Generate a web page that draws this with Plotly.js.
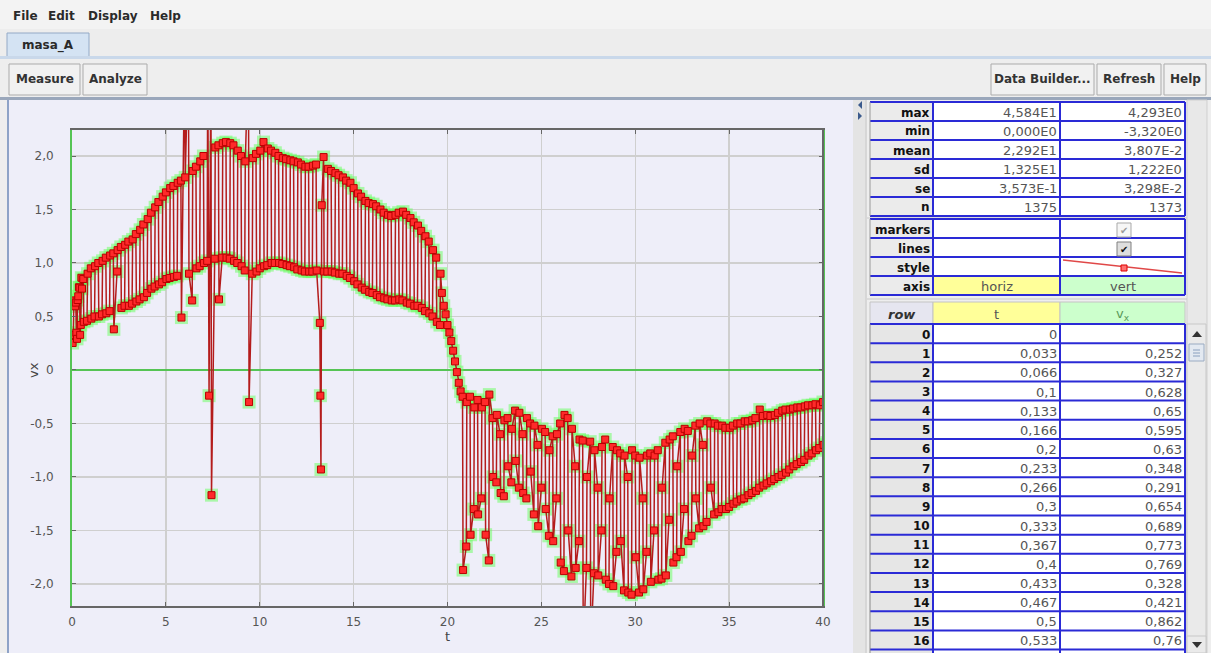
<!DOCTYPE html>
<html><head><meta charset="utf-8">
<script src="https://cdn.plot.ly/plotly-3.0.1.min.js"></script>
<style>html,body{margin:0;padding:0;overflow:hidden;background:#eeeeee}#chart{width:1211px;height:653px}</style>
</head><body><div id="chart"></div>
<script>
// ---------- text content ----------
const menuItems = ["File", "Edit", "Display", "Help"];
const tabName = "masa_A";
const leftButtons = ["Measure", "Analyze"];
const rightButtons = ["Data Builder...", "Refresh", "Help"];

// ---------- series (t, vx) ----------
const t = [0.033,0.066,0.1,0.133,0.166,0.2,0.233,0.266,0.3,0.333,0.367,0.4,0.433,0.467,0.5,0.533,
0.6,0.63,0.8,0.83,1.0,1.03,1.2,1.23,1.4,1.43,
1.6,1.63,1.8,1.83,2.0,2.03,2.2,2.23,2.4,2.43,
2.6,2.63,2.8,2.83,3.0,3.03,3.2,3.23,3.4,3.43,
3.6,3.63,3.8,3.83,4.0,4.03,4.2,4.23,4.4,4.43,
4.6,4.63,4.8,4.83,5.0,5.03,5.2,5.23,5.4,5.43,
5.6,5.63,5.8,5.83,6.0,6.03,6.2,6.23,6.4,6.43,
6.6,6.63,6.8,6.83,7.0,7.03,7.2,7.23,7.3,7.4,
7.43,7.6,7.63,7.8,7.83,8.0,8.03,8.2,8.23,8.4,
8.43,8.6,8.63,8.8,8.83,9.0,9.03,9.2,9.23,9.4,
9.43,9.6,9.63,9.8,9.83,10.0,10.03,10.2,10.23,10.4,
10.43,10.6,10.63,10.8,10.83,11.0,11.03,11.2,11.23,11.4,
11.43,11.6,11.63,11.8,11.83,12.0,12.03,12.2,12.23,12.4,
12.43,12.6,12.63,12.8,12.83,13.0,13.03,13.2,13.23,13.26,
13.3,13.4,13.43,13.6,13.63,13.8,13.83,14.0,14.03,14.2,
14.23,14.4,14.43,14.6,14.63,14.8,14.83,15.0,15.03,15.2,
15.23,15.4,15.43,15.6,15.63,15.8,15.83,16.0,16.03,16.2,
16.23,16.4,16.43,16.6,16.63,16.8,16.83,17.0,17.03,17.2,
17.23,17.4,17.43,17.6,17.63,17.8,17.83,18.0,18.03,18.2,
18.23,18.4,18.43,18.6,18.63,18.8,18.83,19.0,19.03,19.2,
19.23,19.4,19.43,19.6,19.63,19.7,19.8,19.9,20.0,20.1,
20.2,20.3,20.4,20.5,20.6,20.7,20.8,20.83,21.0,21.03,
21.2,21.23,21.4,21.43,21.6,21.63,21.8,21.83,22.0,22.03,
22.2,22.23,22.4,22.43,22.6,22.63,22.8,22.83,23.0,23.03,
23.2,23.23,23.4,23.43,23.6,23.63,23.8,23.83,24.0,24.03,
24.2,24.23,24.4,24.43,24.6,24.63,24.8,24.83,25.0,25.03,
25.2,25.23,25.4,25.43,25.6,25.63,25.8,25.83,26.0,26.03,
26.2,26.23,26.4,26.43,26.6,26.63,26.8,26.83,27.0,27.03,
27.2,27.23,27.4,27.43,27.6,27.63,27.8,27.83,28.0,28.03,
28.2,28.23,28.4,28.43,28.6,28.63,28.8,28.83,29.0,29.03,
29.2,29.23,29.4,29.43,29.6,29.63,29.8,29.83,30.0,30.03,
30.2,30.23,30.4,30.43,30.6,30.63,30.8,30.83,31.0,31.03,
31.2,31.23,31.4,31.43,31.6,31.63,31.8,31.83,32.0,32.03,
32.2,32.23,32.4,32.43,32.6,32.63,32.8,32.83,33.0,33.03,
33.2,33.23,33.4,33.43,33.6,33.63,33.8,33.83,34.0,34.03,
34.2,34.23,34.4,34.43,34.6,34.63,34.8,34.83,35.0,35.03,
35.2,35.23,35.4,35.43,35.6,35.63,35.8,35.83,36.0,36.03,
36.2,36.23,36.4,36.43,36.6,36.63,36.8,36.83,37.0,37.03,
37.2,37.23,37.4,37.43,37.6,37.63,37.8,37.83,38.0,38.03,
38.2,38.23,38.4,38.43,38.6,38.63,38.8,38.83,39.0,39.03,
39.2,39.23,39.4,39.43,39.6,39.63,39.8,39.83,40.0,40.03,
40.2,40.23];
const vx = [0.252,0.327,0.628,0.65,0.595,0.63,0.348,0.291,0.654,0.689,0.773,0.769,0.328,0.421,0.862,0.76,
0.85,0.45,0.46,0.9,0.95,0.48,0.5,0.97,1.0,0.5,
0.52,1.02,1.05,0.53,0.55,1.07,1.09,0.38,0.92,1.12,
1.15,0.58,0.6,1.17,1.2,0.6,0.62,1.22,1.27,0.64,
0.66,1.31,1.36,0.68,0.72,1.41,1.47,0.76,0.78,1.52,
1.57,0.8,0.82,1.62,1.66,0.85,0.86,1.7,1.72,0.87,
0.88,1.75,1.77,0.49,3.0,1.8,3.0,0.9,0.65,1.86,
1.9,0.95,0.97,1.95,2.0,1.0,1.02,3.0,-0.24,3.0,
-1.17,1.04,2.08,2.1,0.66,1.05,2.12,2.13,1.05,1.04,
2.12,2.1,1.02,1.0,2.05,2.0,0.97,0.93,1.95,3.0,
-0.3,0.9,1.98,2.02,0.92,0.95,2.05,2.13,0.97,0.98,
2.07,2.05,1.0,1.0,2.03,2.0,1.0,0.99,1.98,1.97,
0.98,0.97,1.96,1.95,0.96,0.94,1.94,1.92,0.93,0.92,
1.9,1.9,0.92,0.92,1.91,1.92,0.93,0.44,-0.24,-0.93,
1.54,1.99,0.92,0.92,1.88,1.86,0.92,0.91,1.84,1.82,
0.9,0.9,1.8,1.77,0.88,0.86,1.75,1.7,0.83,0.8,
1.65,1.62,0.77,0.75,1.58,1.56,0.73,0.72,1.55,1.53,
0.7,0.68,1.5,1.47,0.67,0.66,1.45,1.44,0.65,0.65,
1.45,1.47,0.66,0.65,1.48,1.45,0.63,0.62,1.42,1.38,
0.6,0.6,1.35,1.3,0.58,0.55,1.25,1.2,0.53,0.5,
1.12,1.05,0.45,0.42,0.9,0.72,0.6,0.52,0.42,0.35,
0.27,0.18,0.08,-0.02,-0.12,-0.2,-0.25,-1.87,-1.65,-0.3,
-0.25,-1.54,-1.3,-0.35,-0.28,-1.35,-1.2,-0.35,-0.3,-1.54,
-1.78,-0.23,-0.45,-1.0,-1.05,-0.42,-0.6,-1.15,-1.18,-0.47,
-0.45,-0.9,-1.05,-0.55,-0.38,-0.85,-1.1,-0.4,-0.6,-1.15,
-1.2,-0.45,-0.5,-0.95,-1.35,-0.52,-0.7,-1.46,-1.1,-0.55,
-0.58,-1.3,-1.55,-0.75,-0.62,-1.6,-1.2,-0.6,-0.5,-1.8,
-1.88,-0.42,-0.45,-1.5,-1.93,-0.55,-0.9,-1.85,-1.6,-0.65,
-0.66,-2.6,-1.85,-1.0,-0.67,-2.6,-1.9,-0.75,-1.1,-1.92,
-1.5,-0.72,-0.65,-1.96,-2.0,-1.2,-0.72,-2.02,-1.7,-0.75,
-0.78,-1.6,-2.06,-0.8,-1.0,-2.08,-2.1,-0.75,-0.8,-1.75,
-2.08,-0.82,-1.2,-2.05,-1.7,-0.8,-0.78,-1.98,-1.5,-0.8,
-0.75,-1.96,-1.95,-1.1,-0.68,-1.92,-1.4,-0.65,-0.62,-1.8,
-1.75,-0.9,-0.58,-1.7,-1.3,-0.55,-0.57,-1.6,-1.55,-0.8,
-0.52,-1.2,-1.48,-0.5,-0.7,-1.46,-1.42,-0.48,-0.5,-1.1,
-1.35,-0.5,-0.52,-1.33,-1.3,-0.52,-0.54,-1.3,-1.28,-0.54,
-0.52,-1.25,-1.23,-0.5,-0.5,-1.21,-1.2,-0.48,-0.48,-1.17,
-1.15,-0.47,-0.45,-1.13,-1.1,-0.37,-0.43,-1.08,-1.06,-0.42,
-0.43,-1.04,-1.02,-0.42,-0.4,-1.0,-0.98,-0.38,-0.37,-0.96,
-0.93,-0.37,-0.36,-0.9,-0.88,-0.35,-0.35,-0.86,-0.84,-0.34,
-0.33,-0.8,-0.78,-0.33,-0.32,-0.75,-0.73,-0.33,-0.3,-0.7,
-0.68,-0.3];

const xTickVals = [0, 5, 10, 15, 20, 25, 30, 35, 40];
const xTickText = ["0", "5", "10", "15", "20", "25", "30", "35", "40"];
const yTickVals = [-2, -1.5, -1, -0.5, 0, 0.5, 1, 1.5, 2];
const yTickText = ["-2,0", "-1,5", "-1,0", "-0,5", "0", "0,5", "1,0", "1,5", "2,0"];
const xTitle = "t";
const yTitle = "vx";

// ---------- statistics table ----------
const statNames = ["max", "min", "mean", "sd", "se", "n"];
const statT = ["4,584E1", "0,000E0", "2,292E1", "1,325E1", "3,573E-1", "1375"];
const statV = ["4,293E0", "-3,320E0", "3,807E-2", "1,222E0", "3,298E-2", "1373"];

// ---------- properties table ----------
const propNames = ["markers", "lines", "style", "axis"];
const axisT = "horiz";
const axisV = "vert";

// ---------- data table ----------
const colHeaders = ["row", "t", "v<sub>x</sub>"];
const rowNums = ["0","1","2","3","4","5","6","7","8","9","10","11","12","13","14","15","16","17"];
const rowT = ["0","0,033","0,066","0,1","0,133","0,166","0,2","0,233","0,266","0,3","0,333","0,367","0,4","0,433","0,467","0,5","0,533","0,567"];
const rowV = ["","0,252","0,327","0,628","0,65","0,595","0,63","0,348","0,291","0,654","0,689","0,773","0,769","0,328","0,421","0,862","0,76","0,734"];

// ---------- layout helpers ----------
const W = 1211, H = 653;
const FONT = "DejaVu Sans, Verdana, sans-serif";
const X = x => x / W, Y = y => 1 - y / H;
const shapes = [], ann = [];
function rect(x0, y0, x1, y1, fill, lc, lw, layer) {
  shapes.push({type: 'rect', xref: 'paper', yref: 'paper', x0: X(x0), x1: X(x1), y0: Y(y1), y1: Y(y0),
    fillcolor: fill, line: {color: lc || 'rgba(0,0,0,0)', width: lc ? (lw || 1) : 0}, layer: layer || 'below'});
}
function seg(x0, y0, x1, y1, c, w, layer) {
  shapes.push({type: 'line', xref: 'paper', yref: 'paper', x0: X(x0), x1: X(x1), y0: Y(y0), y1: Y(y1),
    line: {color: c, width: w || 1}, layer: layer || 'below'});
}
function tri(pts, fill, layer) {
  const p = pts.map((q, i) => (i ? 'L' : 'M') + X(q[0]) + ',' + Y(q[1])).join(' ') + ' Z';
  shapes.push({type: 'path', xref: 'paper', yref: 'paper', path: p, fillcolor: fill, line: {width: 0}, layer: layer || 'below'});
}
function label(x, y, s, o) {
  if (s === '' || s == null) return;
  o = o || {};
  ann.push({xref: 'paper', yref: 'paper', x: X(x), y: Y(y), text: s, showarrow: false,
    xanchor: o.anchor || 'center', yanchor: 'middle', borderpad: 0, textangle: o.angle || 0,
    font: {family: FONT, size: o.size || 12, color: o.color || '#222'}});
}

// ---------- window chrome ----------
rect(0, 0, W, 29, '#f3f3f3');
const menuX = [12, 47, 87, 149];
menuItems.forEach((m, i) => label(menuX[i], 16, '<b>' + m + '</b>', {anchor: 'left', size: 12, color: '#2a2a2a'}));
rect(0, 29, W, 57, '#ededed');
rect(7, 33, 89, 58, '#d4e3f3', '#93a9c6', 1);
label(48, 45, '<b>' + tabName + '</b>', {size: 12, color: '#2a2a2a'});
rect(0, 56, W, 59, '#c9d8ea');
rect(0, 59, W, 97, '#eeeeee');
const leftBtnBox = [[9, 80], [83, 147]];
leftButtons.forEach((b, i) => {
  rect(leftBtnBox[i][0], 64, leftBtnBox[i][1], 95, '#f1f1f1', '#ababab', 1);
  label((leftBtnBox[i][0] + leftBtnBox[i][1]) / 2, 79, '<b>' + b + '</b>', {size: 12, color: '#333'});
});
const rightBtnBox = [[991, 1094], [1097, 1161], [1164, 1206]];
rightButtons.forEach((b, i) => {
  rect(rightBtnBox[i][0], 64, rightBtnBox[i][1], 95, '#f1f1f1', '#ababab', 1);
  label((rightBtnBox[i][0] + rightBtnBox[i][1]) / 2, 79, '<b>' + b + '</b>', {size: 12, color: '#333'});
});
rect(0, 97, W, 100, '#9aa7bb');
// plot panel
rect(7, 100, 853, H, '#eeeef9');
seg(8, 100, 8, H, '#8ea3c7', 2);
// splitter
rect(853, 100, 867, H, '#e4e4e4');
seg(866, 100, 866, H, '#c9c9c9', 1);
tri([[862, 101], [862, 109], [858, 105]], '#3b5a8c');
tri([[858, 112], [858, 120], [862, 116]], '#3b5a8c');
// right panel
rect(867, 100, W, H, '#eeeeee');
rect(1187, 100, 1207, H, '#e8e8e8', '#cfcfcf', 1);

// ---------- tables (cells built from the arrays) ----------
const COLX = [870, 933, 1060, 1185];
const BLUE = '#2a2ad6';
const LABEL_BG = '#ebebeb';
function gridLines(y0, rowH, n, leftColor) {
  for (let i = 0; i <= n; i++) seg(COLX[0], y0 + i * rowH, COLX[3], y0 + i * rowH, BLUE, 2);
  seg(COLX[0], y0, COLX[0], y0 + n * rowH, leftColor || '#9a9a9a', 1);
  for (let c = 1; c < 4; c++) seg(COLX[c], y0, COLX[c], y0 + n * rowH, BLUE, 2);
}
function cellText(c, yc, s, align, bold, color, size) {
  if (s === '') return;
  const txt = bold ? '<b>' + s + '</b>' : s;
  if (align === 'center') label((COLX[c] + COLX[c + 1]) / 2, yc, txt, {size: size || 13, color: color});
  else label(COLX[c + 1] - 2, yc, txt, {anchor: 'right', size: size || 13, color: color});
}
// statistics
const ST_Y = 102, ST_H = 19;
statNames.forEach((nm, i) => {
  const ya = ST_Y + i * ST_H;
  rect(COLX[0], ya, COLX[1], ya + ST_H, LABEL_BG);
  rect(COLX[1], ya, COLX[3], ya + ST_H, '#ffffff');
  cellText(0, ya + ST_H / 2 + 1, nm, 'right', true, '#111', 12);
  cellText(1, ya + ST_H / 2 + 1, statT[i], 'right', false, '#555');
  cellText(2, ya + ST_H / 2 + 1, statV[i], 'right', false, '#555');
});
gridLines(ST_Y, ST_H, statNames.length);
seg(867, 218, 1187, 218, '#c8c8c8', 1);
// properties
const PR_Y = 219, PR_H = 19;
propNames.forEach((nm, i) => {
  const ya = PR_Y + i * PR_H;
  const isAxis = nm === 'axis';
  rect(COLX[0], ya, COLX[1], ya + PR_H, LABEL_BG);
  rect(COLX[1], ya, COLX[2], ya + PR_H, isAxis ? '#ffff99' : '#ffffff');
  rect(COLX[2], ya, COLX[3], ya + PR_H, isAxis ? '#ccffcc' : '#ffffff');
  cellText(0, ya + PR_H / 2 + 1, nm, 'right', true, '#111', 12);
  if (isAxis) {
    cellText(1, ya + PR_H / 2 + 1, axisT, 'center', false, '#555');
    cellText(2, ya + PR_H / 2 + 1, axisV, 'center', false, '#555');
  }
});
gridLines(PR_Y, PR_H, propNames.length);
// checkboxes and style sample
rect(1117, 223, 1131, 237, '#f6f6f6', '#a9a9a9', 1);
label(1124, 230, '✔', {size: 10, color: '#9a9a9a'});
rect(1117, 242, 1131, 256, '#dedede', '#808080', 1);
label(1124, 249, '✔', {size: 10, color: '#111'});
seg(1063, 260, 1182, 273, '#e04848', 1.3);
rect(1121, 265, 1127, 271, '#ff7070', '#dd0000', 1);
seg(867, 299, 1187, 299, '#c8c8c8', 1);
// data table
const HD_Y = 302, HD_H = 22, DT_Y = 324, DT_H = 19.15;
const headFill = ['#e6e6f0', '#ffff99', '#ccffcc'];
const headColor = ['#333', '#555', '#5a9a5a'];
colHeaders.forEach((h, c) => {
  rect(COLX[c], HD_Y, COLX[c + 1], HD_Y + HD_H, headFill[c], '#c4c4c4', 1);
  label((COLX[c] + COLX[c + 1]) / 2, HD_Y + HD_H / 2 + 1, c === 0 ? '<b><i>' + h + '</i></b>' : h, {size: 13, color: headColor[c]});
});
rowNums.forEach((r, i) => {
  const ya = DT_Y + i * DT_H;
  rect(COLX[0], ya, COLX[1], ya + DT_H, '#e6e6e6');
  rect(COLX[1], ya, COLX[3], ya + DT_H, '#ffffff');
  cellText(0, ya + DT_H / 2 + 1, r, 'right', true, '#111', 12);
  cellText(1, ya + DT_H / 2 + 1, rowT[i], 'right', false, '#555');
  cellText(2, ya + DT_H / 2 + 1, rowV[i], 'right', false, '#555');
});
gridLines(DT_Y, DT_H, rowNums.length, '#8a8a8a');
// data table scroll bar
rect(1187, 324, 1206, H, '#eaeaea', '#c8c8c8', 1);
tri([[1192, 337], [1202, 337], [1197, 331]], '#333');
rect(1189, 344, 1204, 361, '#e3e9f1', '#9aabc2', 1);
seg(1193, 350, 1200, 350, '#8aa0bf', 1);
seg(1193, 353, 1200, 353, '#8aa0bf', 1);
seg(1193, 356, 1200, 356, '#8aa0bf', 1);
rect(1187, 636, 1206, H, '#eaeaea', '#c8c8c8', 1);
tri([[1192, 642], [1202, 642], [1197, 648]], '#333');

// plot right border (dark) over mirrored green line; y title
seg(823, 130, 823, 606, '#666666', 2, 'above');
label(33, 370, yTitle, {size: 13, color: '#444', angle: -90});

// ---------- traces ----------
const traces = [
  {type: 'scatter', mode: 'markers', x: t, y: vx, hoverinfo: 'skip',
    marker: {symbol: 'square', size: 13, color: 'rgba(100,255,90,0.5)', line: {width: 0}}},
  {type: 'scatter', mode: 'lines+markers', x: t, y: vx, hoverinfo: 'skip',
    line: {color: '#b41c1c', width: 1.5},
    marker: {symbol: 'square', size: 7, color: '#ff2a2a', line: {color: '#b80000', width: 1}}}
];

const axisFont = {family: FONT, size: 12, color: '#555'};
const layout = {
  width: W, height: H, margin: {l: 0, r: 0, t: 0, b: 0},
  paper_bgcolor: '#eeeeee', plot_bgcolor: '#ffffff',
  showlegend: false, hovermode: false, dragmode: false,
  font: {family: FONT},
  xaxis: {domain: [X(72), X(823)], range: [0, 40], tickmode: 'array', tickvals: xTickVals, ticktext: xTickText,
    showgrid: true, gridcolor: '#cfcfcf', gridwidth: 1.5, zeroline: false,
    showline: true, linecolor: '#666666', linewidth: 2, mirror: 'ticks',
    ticks: 'inside', ticklen: 4, tickcolor: '#666666', tickfont: axisFont, ticklabelstandoff: 4,
    title: {text: xTitle, font: {family: FONT, size: 13, color: '#444'}, standoff: 0}, fixedrange: true},
  yaxis: {domain: [Y(606), Y(130)], range: [-2.206, 2.243], tickmode: 'array', tickvals: yTickVals, ticktext: yTickText,
    showgrid: true, gridcolor: '#cfcfcf', gridwidth: 1.5,
    zeroline: true, zerolinecolor: '#55c455', zerolinewidth: 1.5,
    showline: true, linecolor: '#55c455', linewidth: 2, mirror: 'ticks',
    ticks: 'inside', ticklen: 4, tickcolor: '#666666', tickfont: axisFont, ticklabelstandoff: 14,
    fixedrange: true},
  shapes: shapes,
  annotations: ann
};

Plotly.newPlot('chart', traces, layout, {displayModeBar: false, staticPlot: true});
</script>
</body></html>
